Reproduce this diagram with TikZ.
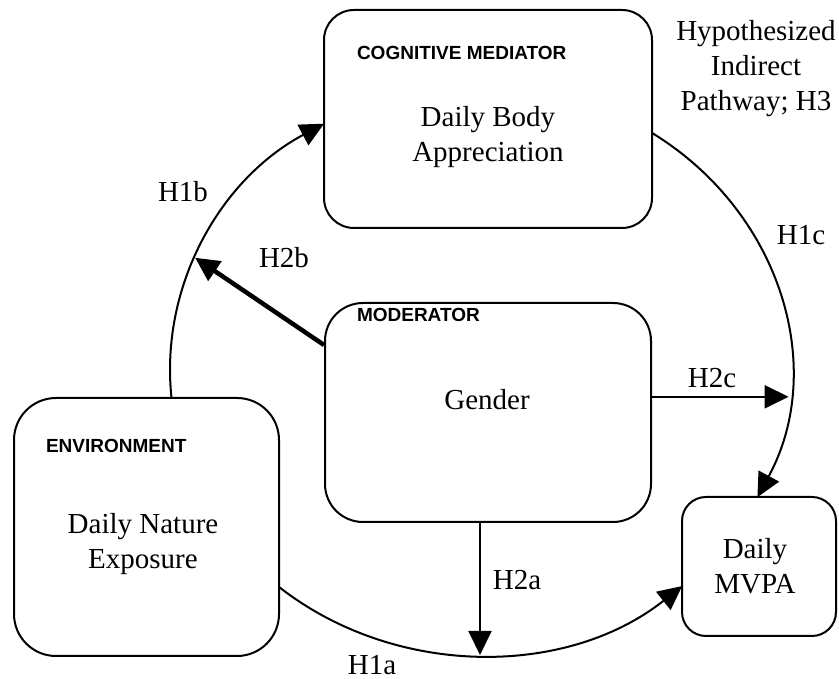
\documentclass[tikz,border=0pt]{standalone}
\usepackage{fontspec}
\setmainfont{Liberation Serif}
\setsansfont{Liberation Sans}
\usetikzlibrary{calc, arrows.meta}

\begin{document}
\begin{tikzpicture}[x=1pt, y=1pt, line width=2pt,
  box/.style={draw, rounded corners=#1, inner sep=0pt},
  head/.style={font=\sffamily\bfseries\fontsize{19}{23}\selectfont, anchor=west, inner sep=0pt},
  txt/.style={font=\fontsize{29}{35}\selectfont, align=center, inner sep=0pt},
  path/.style={-{Triangle[length=24pt,width=23pt]}}]
\useasboundingbox (0,0) rectangle (839,679);
\coordinate (o) at (480,309);   % Centre of the ellipse of pathways
% Boxes of the model
\node[box=30pt, minimum width=328pt, minimum height=218pt] (cog) at (488,560) {};
\node[box=38pt, minimum width=326pt, minimum height=219pt] (mod) at (488,266.5) {};
\node[box=42pt, minimum width=265pt, minimum height=258pt] (env) at (146.5,152) {};
\node[box=24pt, minimum width=154pt, minimum height=139pt] (mvpa) at (759,112.5) {};
% Titles and contents
\node[head] (cogt) at ([xshift=33pt]cog.west |- 0,626) {COGNITIVE MEDIATOR};
\node[head] (modt) at ([xshift=32pt]mod.west |- 0,364) {MODERATOR};
\node[head] (envt) at ([xshift=32pt]env.west |- 0,233) {ENVIRONMENT};
\node[txt] (cogx) at (488,542) {Daily Body\\Appreciation};
\node[txt] (modx) at (487,279) {Gender};
\node[txt] (envx) at (143,134.5) {Daily Nature\\Exposure};
\node[txt] (mvpax) at (755,113) {Daily\\MVPA};
\node[txt] (h3) at (756,610) {Hypothesized\\Indirect\\Pathway; H3};
% Points on the ellipse
\coordinate (e1b) at ($(o)+(185.6:310 and 285)$);
\coordinate (e1c) at ($(o)+(56.3:310 and 285)$);
\coordinate (e1a) at ($(o)+(229.6:310 and 285)$);
\coordinate (e2b) at ($(o)+(156.8:310 and 285)$);
\coordinate (e2c) at ($(o)+(-5.4:310 and 285)$);
\coordinate (e2a) at ($(o)+(270:310 and 285)$);
% Direct pathways
\draw[path] (e1b) arc[start angle=185.6, end angle=120.2, x radius=310, y radius=285];
\draw[path] (e1c) arc[start angle=56.3, end angle=-26.5, x radius=310, y radius=285];
\draw[path] (e1a) arc[start angle=229.6, end angle=310.7, x radius=310, y radius=285];
% Moderation
\draw[path, line width=4.5pt] ([yshift=67.5pt]mod.west) -- (e2b);
\draw[path] (mod.east |- e2c) -- (e2c);
\draw[path] (mod.south -| e2a) -- (e2a);
% Labels
\node[txt] (l1b) at (183,487) {H1b};
\node[txt] (l1c) at (801,444) {H1c};
\node[txt] (l1a) at (372,14) {H1a};
\node[txt] (l2b) at (284,421) {H2b};
\node[txt] (l2c) at (712,301) {H2c};
\node[txt] (l2a) at (517,99) {H2a};
\end{tikzpicture}
\end{document}
